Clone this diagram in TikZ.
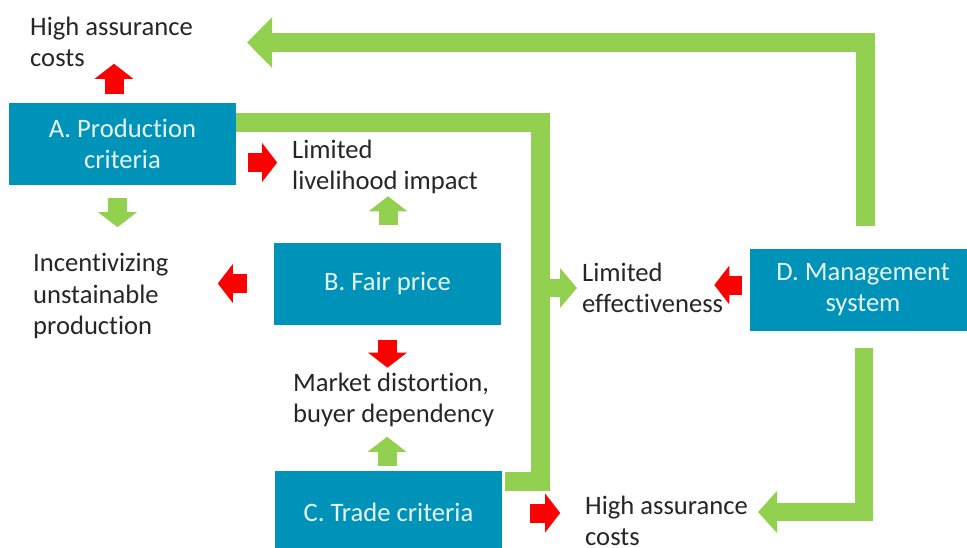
\documentclass[tikz,border=0pt]{standalone}
\usepackage{fontspec}
\setmainfont{Carlito}[Ligatures=NoCommon]
\usetikzlibrary{arrows.meta}

\definecolor{boxblue}{RGB}{0,147,185}
\definecolor{boxtext}{RGB}{232,245,250}
\definecolor{textgrey}{RGB}{38,38,38}
\definecolor{arrowgreen}{RGB}{146,208,80}
\definecolor{arrowred}{RGB}{255,0,0}

\tikzset{
    crit/.style={fill=boxblue, text=boxtext, align=center, minimum width=227pt, minimum height=82pt, inner sep=0pt},
    effect/.style={text=textgrey, align=left, anchor=west, inner sep=0pt},
    smallarrow/.style={line width=19pt, -{Triangle[width=38pt,length=15pt]}},
    redarrow/.style={smallarrow, arrowred},
    greenarrow/.style={smallarrow, arrowgreen},
    bigarrow/.style={line width=19pt, arrowgreen, line join=miter},
}

\begin{document}
\begin{tikzpicture}[x=1pt, y=-1pt, font=\fontsize{26.6}{31.5}\selectfont]
    \useasboundingbox (0,0) rectangle (967,547);
    \node[crit] (A) at (122.5,144) {A. Production\\criteria};
    \node[crit] (B) at (387.5,283.5) {B. Fair price};
    \node[crit] (C) at (388.5,512) {C. Trade criteria};
    \node[crit] (D) at (863,289.5) {D. Management\\system};
    \node[effect] (costsA) at (30,42) {High assurance\\costs};
    \node[effect] (livelihood) at (292,167) {Limited\\livelihood impact};
    \node[effect] (incentive) at (33,296) {Incentivizing\\unstainable\\production};
    \node[effect] (effective) at (582,288) {Limited\\effectiveness};
    \node[effect] (market) at (293,400) {Market distortion,\\buyer dependency};
    \node[effect] (costsD) at (585,521) {High assurance\\costs};
    \coordinate (toptip) at (247,42.5);
    \coordinate (bottip) at (758,512);

    \draw[redarrow] ([xshift=-8.5pt,yshift=9pt]A.north) -- ++(0,-30);
    \draw[greenarrow] ([xshift=-5pt,yshift=-13pt]A.south) -- ++(0,29);
    \draw[redarrow] ([xshift=12pt,yshift=-18.5pt]A.east) -- ++(29,0);
    \draw[greenarrow] ([xshift=0.5pt,yshift=17pt]B.north) -- ++(0,-29);
    \draw[redarrow] ([xshift=-27pt]B.west) -- ++(-29,0);
    \draw[redarrow] ([yshift=-15pt]B.south) -- ++(0,28);
    \draw[greenarrow] ([xshift=-1.5pt,yshift=5pt]C.north) -- ++(0,-29);
    \draw[redarrow] ([xshift=-7pt,yshift=4.5pt]D.west) -- ++(-28,0);
    \draw[redarrow] ([xshift=28pt,yshift=-1pt]C.east) -- ++(30,0);

    \draw[bigarrow, -{Triangle[width=49pt,length=25pt]}] ([xshift=2pt,yshift=22pt]D.north) |- (toptip);
    \draw[bigarrow] ([yshift=-20pt]A.north east) -- ++(304.5,0) |- ([xshift=3pt,yshift=-11pt]C.north east);
    \draw[bigarrow, line width=18pt, -{Triangle[width=39pt,length=17pt]}] ([xshift=-42pt]effective.west) -- ([xshift=-5pt]effective.west);
    \draw[bigarrow, line width=18pt, -{Triangle[width=41pt,length=19pt]}] ([xshift=1pt,yshift=-17pt]D.south) |- (bottip);
\end{tikzpicture}
\end{document}
